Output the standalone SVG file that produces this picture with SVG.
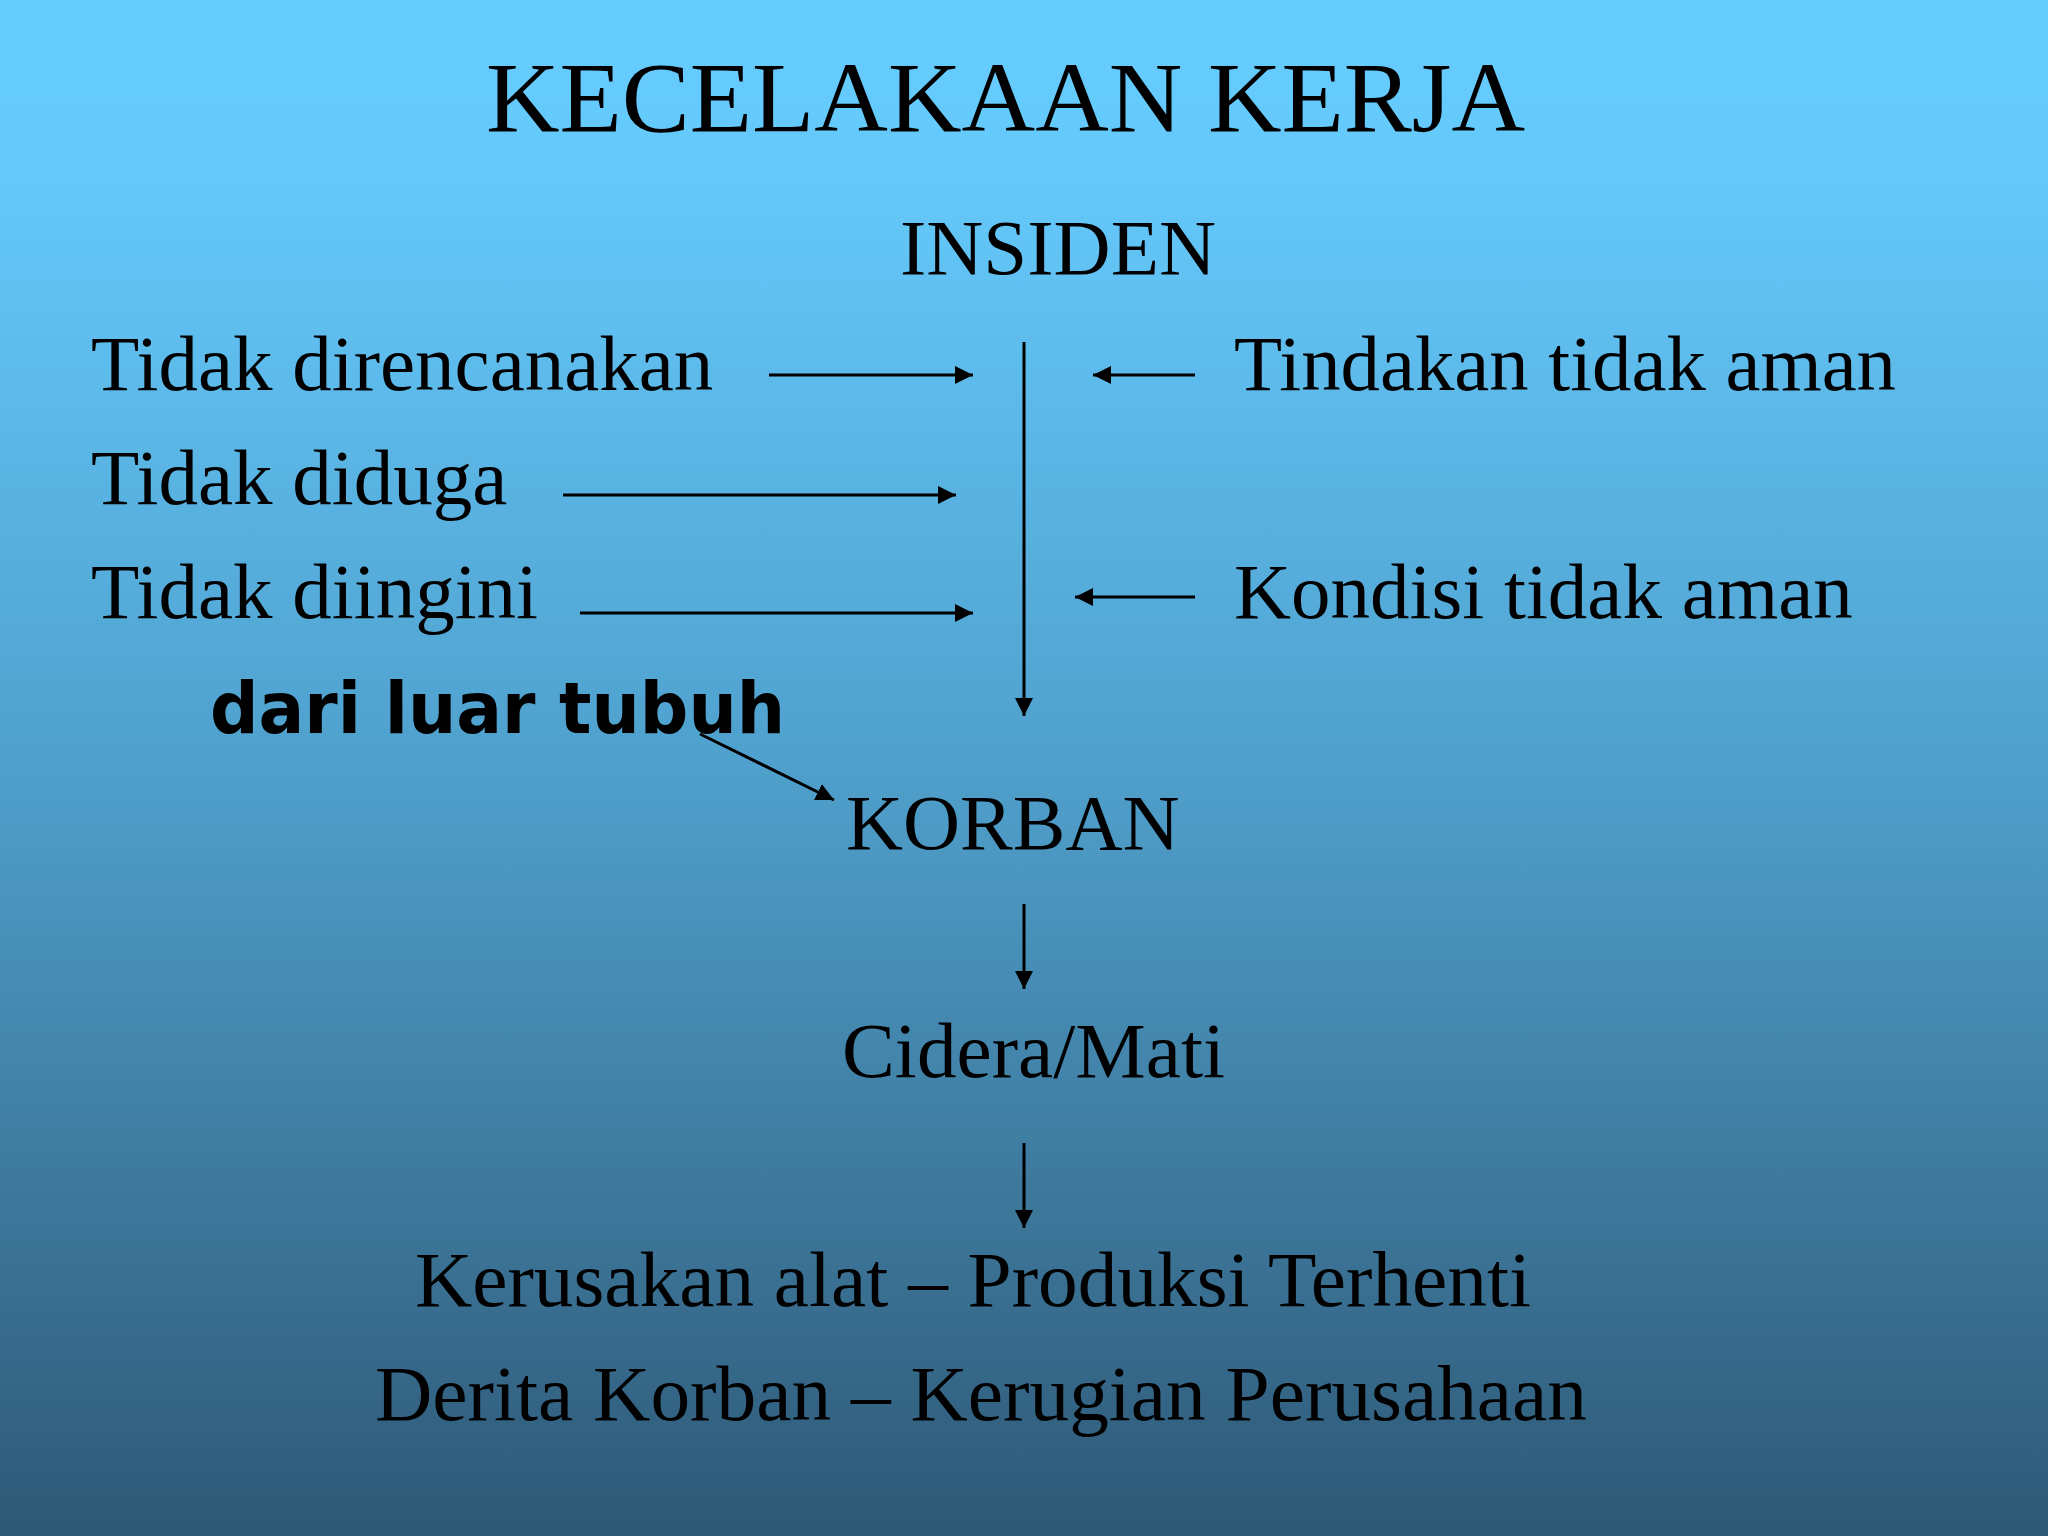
<svg xmlns="http://www.w3.org/2000/svg" width="2048" height="1536" viewBox="0 0 2048 1536">
<defs>
<linearGradient id="bg" x1="0" y1="0" x2="0" y2="1">
<stop offset="0" stop-color="#66CCFF"/>
<stop offset="0.12" stop-color="#64C8FA"/>
<stop offset="0.5" stop-color="#4FA0CC"/>
<stop offset="0.8" stop-color="#3C7598"/>
<stop offset="1" stop-color="#2E5876"/>
</linearGradient>
<marker id="ah" viewBox="0 0 10 10" refX="10" refY="5" markerWidth="6" markerHeight="6" markerUnits="strokeWidth" orient="auto">
<path d="M0,0 L10,5 L0,10 Z" fill="#000"/>
</marker>
<style>
.t{font-family:"Liberation Serif","Times New Roman",serif;fill:#000;font-size:79px}
.h{font-size:100px}
.c{font-family:"DejaVu Sans",sans-serif;font-weight:bold;font-size:72px;fill:#000}
.ln{stroke:#000;stroke-width:3;fill:none;marker-end:url(#ah)}
</style>
</defs>
<rect width="2048" height="1536" fill="url(#bg)"/>
<g id="title"><text class="t h" x="486" y="131" textLength="1039" lengthAdjust="spacingAndGlyphs">KECELAKAAN KERJA</text></g>
<g id="insiden"><text class="t" x="900" y="274">INSIDEN</text></g>
<g id="tidak-direncanakan"><text class="t" x="91" y="390">Tidak direncanakan</text></g>
<g id="tidak-diduga"><text class="t" x="91" y="504">Tidak diduga</text></g>
<g id="tidak-diingini"><text class="t" x="91" y="618">Tidak diingini</text></g>
<g id="tindakan"><text class="t" x="1234" y="390" textLength="662" lengthAdjust="spacingAndGlyphs">Tindakan tidak aman</text></g>
<g id="kondisi"><text class="t" x="1234" y="618">Kondisi tidak aman</text></g>
<g id="dari-luar-tubuh"><text class="c" x="210" y="733" textLength="575" lengthAdjust="spacingAndGlyphs">dari luar tubuh</text></g>
<g id="korban"><text class="t" x="846" y="849">KORBAN</text></g>
<g id="cidera"><text class="t" x="842" y="1077" textLength="383" lengthAdjust="spacingAndGlyphs">Cidera/Mati</text></g>
<g id="kerusakan"><text class="t" x="415" y="1306" textLength="1116" lengthAdjust="spacingAndGlyphs">Kerusakan alat – Produksi Terhenti</text></g>
<g id="derita"><text class="t" x="375" y="1420" textLength="1212" lengthAdjust="spacingAndGlyphs">Derita Korban – Kerugian Perusahaan</text></g>
<g id="connectors">
<line class="ln" x1="1024" y1="342" x2="1024" y2="716"/>
<line class="ln" x1="769" y1="375" x2="973" y2="375"/>
<line class="ln" x1="563" y1="495" x2="956" y2="495"/>
<line class="ln" x1="580" y1="613" x2="973" y2="613"/>
<line class="ln" x1="1195" y1="375" x2="1093" y2="375"/>
<line class="ln" x1="1195" y1="597" x2="1075" y2="597"/>
<line class="ln" x1="700" y1="734" x2="834" y2="800"/>
<line class="ln" x1="1024" y1="904" x2="1024" y2="989"/>
<line class="ln" x1="1024" y1="1143" x2="1024" y2="1228"/>
</g>
</svg>
